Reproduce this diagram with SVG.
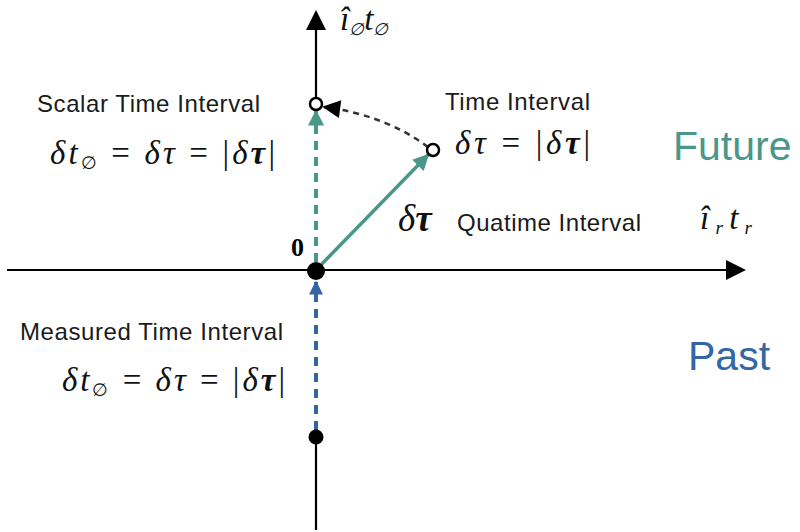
<svg xmlns="http://www.w3.org/2000/svg" width="800" height="532" viewBox="0 0 800 532">
<defs>
<style>
.lbl{font-family:"Liberation Sans",Arial,sans-serif;font-size:24px;fill:#1a1a1a}
.m{font-family:"Liberation Serif","DejaVu Serif",serif;font-size:33px;fill:#111}
.mi{font-style:italic}
.axis{stroke:#000;stroke-width:2.2;fill:none}
</style>
<marker id="ab" viewBox="0 0 10 10" refX="9" refY="5" markerWidth="26" markerHeight="20" markerUnits="userSpaceOnUse" orient="auto"><path d="M0,0L10,5L0,10z" fill="#000"/></marker>
<marker id="at" viewBox="0 0 10 10" refX="9" refY="5" markerWidth="30" markerHeight="16" markerUnits="userSpaceOnUse" orient="auto"><path d="M0,0L10,5L0,10z" fill="#4a968a"/></marker>
<marker id="ablue" viewBox="0 0 10 10" refX="9" refY="5" markerWidth="28" markerHeight="14" markerUnits="userSpaceOnUse" orient="auto"><path d="M0,0L10,5L0,10z" fill="#3465a4"/></marker>
<marker id="ak" viewBox="0 0 10 10" refX="9" refY="5" markerWidth="20" markerHeight="18" markerUnits="userSpaceOnUse" orient="auto"><path d="M0,0L10,5L0,10z" fill="#000"/></marker>
</defs>
<g id="connectors">
<line class="axis" x1="7" y1="270" x2="744" y2="270" marker-end="url(#ab)"/>
<line class="axis" x1="316" y1="530" x2="316" y2="437"/>
<line class="axis" x1="316" y1="98" x2="316" y2="12" marker-end="url(#ab)"/>
<line x1="316" y1="262" x2="316" y2="111" stroke="#4a968a" stroke-width="4" stroke-dasharray="9,7" marker-end="url(#at)"/>
<line x1="316" y1="430" x2="316" y2="282" stroke="#3465a4" stroke-width="4" stroke-dasharray="9,7" marker-end="url(#ablue)"/>
<line x1="316" y1="270" x2="428" y2="155" stroke="#4a968a" stroke-width="3.5" marker-end="url(#at)"/>
<path d="M428,147 Q385,115 324,107" fill="none" stroke="#333" stroke-width="2.5" stroke-dasharray="6,5" marker-end="url(#ak)"/>
</g>
<g id="origin"><circle cx="316" cy="271" r="9" fill="#000"/><text x="291" y="256" font-family="'Liberation Serif','DejaVu Serif',serif" font-weight="bold" font-size="26" fill="#000">0</text></g>
<g id="bottom-point"><circle cx="316" cy="437" r="7.5" fill="#000"/></g>
<g id="scalar-point"><circle cx="316" cy="104" r="6" fill="#fff" stroke="#000" stroke-width="2.5"/></g>
<g id="time-point"><circle cx="433" cy="150" r="6" fill="#fff" stroke="#000" stroke-width="2.5"/></g>
<g id="axis-labels">
<text class="m mi" x="340" y="30">î<tspan font-size="17" dy="5">∅</tspan><tspan dy="-5">t</tspan><tspan font-size="17" dy="5">∅</tspan></text>
<text class="m mi" x="700" y="229" textLength="52">î<tspan font-size="19" dy="5">r</tspan><tspan dy="-5">t</tspan><tspan font-size="19" dy="5">r</tspan></text>
</g>
<g id="scalar-label">
<text class="lbl" x="37" y="112" textLength="223">Scalar Time Interval</text>
<text class="m" x="50" y="164" textLength="225"><tspan class="mi">δt</tspan><tspan font-size="18" dy="5">∅</tspan><tspan dy="-5"> = </tspan><tspan class="mi">δτ</tspan> = |<tspan class="mi">δ</tspan><tspan class="mi" font-weight="bold">τ</tspan>|</text>
</g>
<g id="time-label">
<text class="lbl" x="445" y="110" textLength="145">Time Interval</text>
<text class="m" x="455" y="154" textLength="135"><tspan class="mi">δτ</tspan> = |<tspan class="mi">δ</tspan><tspan class="mi" font-weight="bold">τ</tspan>|</text>
</g>
<g id="quatime-label">
<text class="m" x="398" y="231" style="font-size:37px"><tspan class="mi">δ</tspan><tspan class="mi" font-weight="bold">τ</tspan></text>
<text class="lbl" x="457" y="231" textLength="184">Quatime Interval</text>
</g>
<g id="measured-label">
<text class="lbl" x="20" y="340" textLength="263">Measured Time Interval</text>
<text class="m" x="62" y="391" textLength="223"><tspan class="mi">δt</tspan><tspan font-size="18" dy="5">∅</tspan><tspan dy="-5"> = </tspan><tspan class="mi">δτ</tspan> = |<tspan class="mi">δ</tspan><tspan class="mi" font-weight="bold">τ</tspan>|</text>
</g>
<g id="future"><text x="673" y="160" font-family="'Liberation Sans',Arial,sans-serif" font-size="41" fill="#4a968a">Future</text></g>
<g id="past"><text x="688" y="370" font-family="'Liberation Sans',Arial,sans-serif" font-size="41" fill="#3465a4">Past</text></g>
</svg>
